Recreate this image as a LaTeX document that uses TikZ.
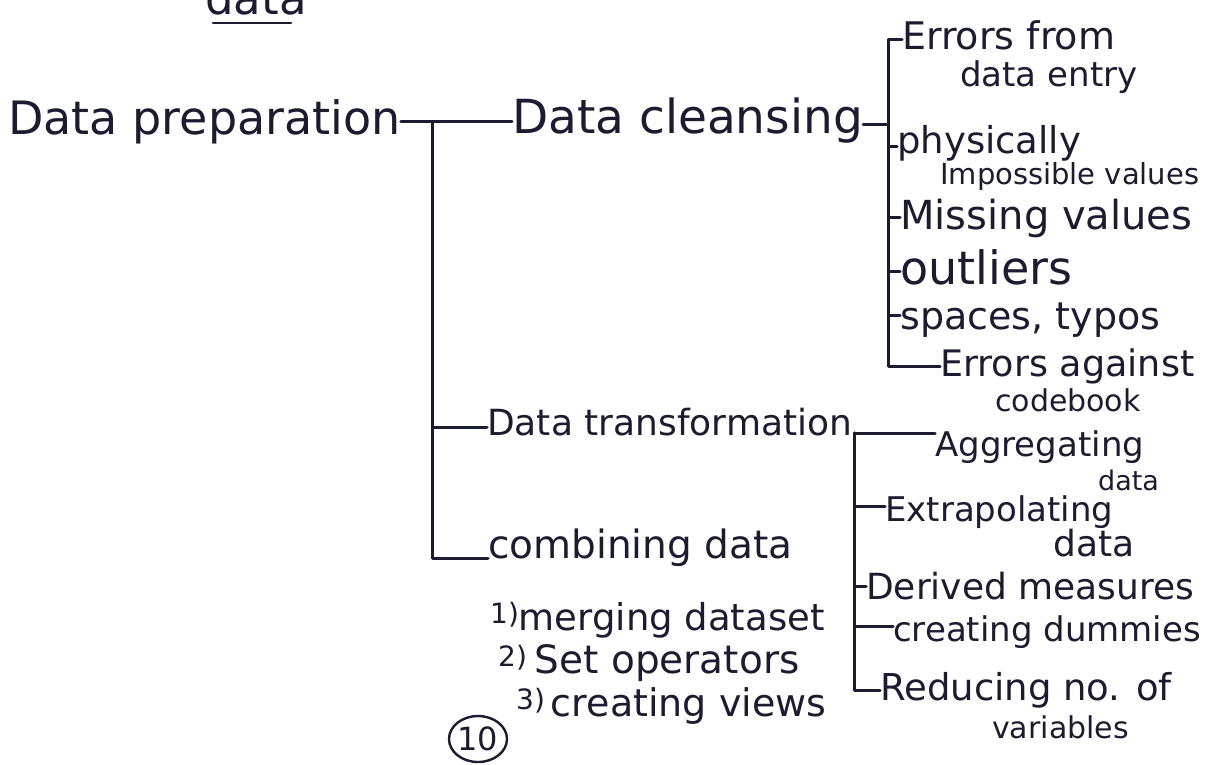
\documentclass[tikz,border=0pt]{standalone}
\usepackage{fontspec}
\setmainfont{DejaVu Sans}
\usetikzlibrary{calc,shapes.geometric}
\definecolor{ink}{RGB}{28,28,48}
\newcommand{\fs}[1]{\fontsize{#1}{#1}\selectfont}
\newcommand{\smallnum}[1]{\raisebox{7pt}{\fs{28}#1}}
\begin{document}
\begin{tikzpicture}[x=1pt,y=-1pt,
  hand/.style={text=ink, inner sep=0pt, anchor=base west, font=\fs{35}},
  link/.style={draw=ink, line width=3pt, line cap=round, line join=round}]
\useasboundingbox[fill=white] (0,0) rectangle (1207,764);

% top fragment
\node[hand, font=\fs{45}] (dtop) at (205,14) {data};
\draw[link, line width=2.6pt] ($(dtop.base west)+(8,9)$) -- ($(dtop.base west)+(86,9)$);

% main levels
\node[hand, font=\fs{46}] (prep) at (8,134) {Data preparation};
\node[hand, font=\fs{47}] (clean) at (512,133) {Data cleansing};
\node[hand, font=\fs{36}] (trans) at (487,435) {Data transformation};
\node[hand, font=\fs{39}] (comb) at (488,558) {combining data};

% cleansing items
\node[hand, font=\fs{38}] (c1) at (902,49) {Errors from};
\node[hand, font=\fs{34}] (c1b) at (960,86) {data entry};
\node[hand, font=\fs{37}] (c2) at (897,153) {physically};
\node[hand, font=\fs{29}] (c2b) at (940,184) {Impossible values};
\node[hand, font=\fs{40}] (c3) at (900,229) {Missing values};
\node[hand, font=\fs{46}] (c4) at (900,284) {outliers};
\node[hand, font=\fs{38}] (c5) at (900,329) {spaces, typos};
\node[hand, font=\fs{36.5}] (c6) at (940,376) {Errors against};
\node[hand, font=\fs{30}] (c6b) at (995,411) {codebook};

% transformation items
\node[hand, font=\fs{34}] (t1) at (935,456) {Aggregating};
\node[hand, font=\fs{27}] (t1b) at (1098,490) {data};
\node[hand, font=\fs{34}] (t2) at (885,521) {Extrapolating};
\node[hand, font=\fs{36}] (t2b) at (1053,556) {data};
\node[hand, font=\fs{36}] (t3) at (866,599) {Derived measures};
\node[hand, font=\fs{34}] (t4) at (893,641) {creating dummies};
\node[hand, font=\fs{37}] (t5) at (880,700) {Reducing no. of};
\node[hand, font=\fs{30}] (t5b) at (992,738) {variables};

% combining list
\node[hand, font=\fs{37}] (m1) at (490,630) {\smallnum{1)}merging dataset};
\node[hand, font=\fs{39}] (m2) at (498,673) {\smallnum{2)}\hspace{8pt}Set operators};
\node[hand, font=\fs{38}] (m3) at (516,716) {\smallnum{3)}\hspace{6pt}creating views};
\node[draw=ink, line width=2.4pt, ellipse, minimum width=58pt, minimum height=46pt,
      inner sep=0pt, text=ink, font=\fs{32}] (ten) at (478,739) {10};

% connectors: main tree
\draw[link] (prep.east) -- (prep.east -| clean.west);
\coordinate (j1) at (432,122);
\draw[link] (j1) |- ([yshift=8pt]trans.base west);
\draw[link] (j1) |- (comb.base west);

% connectors: cleansing
\coordinate (x888) at (888,0);
\coordinate (j2) at ([yshift=-4pt]clean.east -| x888);
\draw[link] ([yshift=-4pt]clean.east) -- (j2);
\draw[link] (j2) |- ([yshift=10pt]c1.base west);
\draw[link] (j2) |- ([yshift=7pt]c2.base west);
\draw[link] (j2) |- ([yshift=12pt]c3.base west);
\draw[link] (j2) |- ([yshift=13pt]c4.base west);
\draw[link] (j2) |- ([yshift=14pt]c5.base west);
\draw[link] (j2) |- ([yshift=10pt]c6.base west);

% connectors: transformation
\coordinate (j3) at ([xshift=2pt,yshift=2pt]trans.base east);
\draw[link] (j3) -- (j3 -| t1.west);
\draw[link] (j3) |- ([yshift=15pt]t2.base west);
\draw[link] (j3) |- ([yshift=13pt]t3.base west);
\draw[link] (j3) |- ([yshift=15pt]t4.base west);
\draw[link] (j3) |- ([yshift=10pt]t5.base west);
\end{tikzpicture}
\end{document}
